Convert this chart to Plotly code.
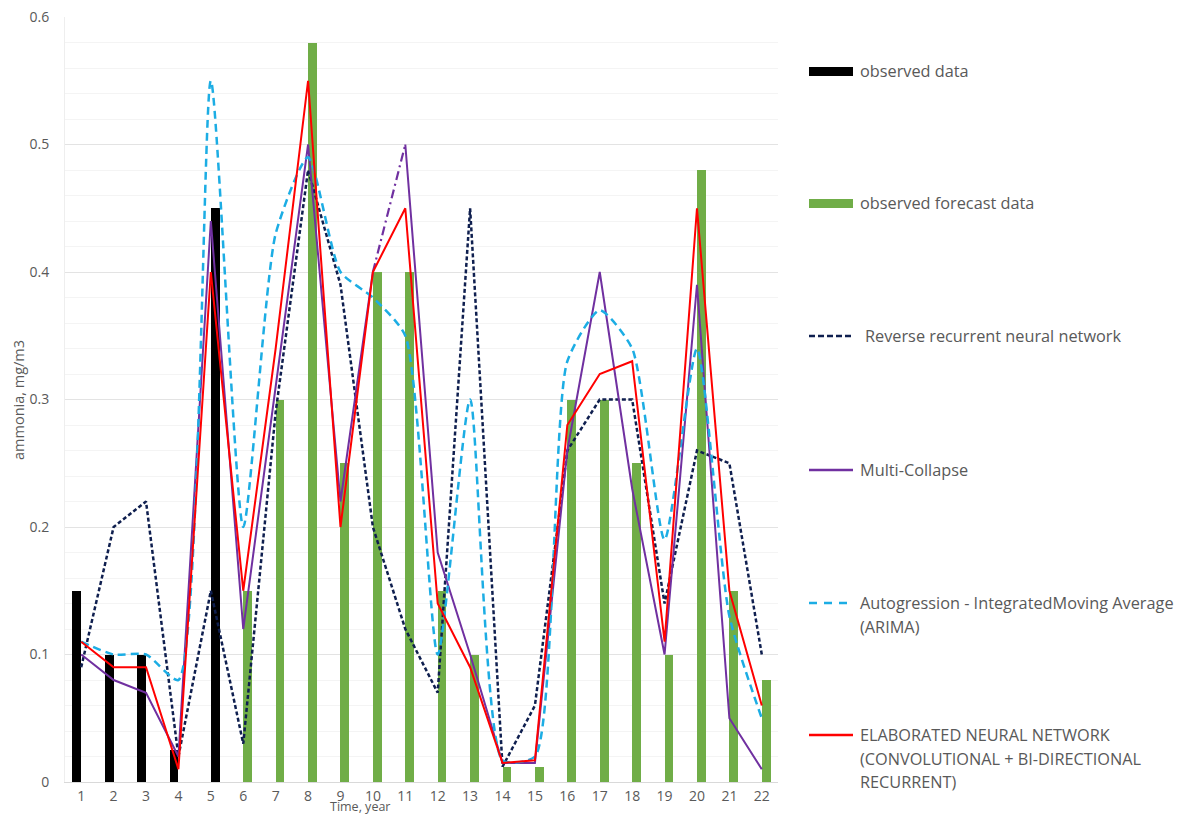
import plotly.graph_objects as go

# ---------------- data ----------------
years = list(range(1, 23))
tick_labels = [str(y) for y in years]
y_ticks = [0, 0.1, 0.2, 0.3, 0.4, 0.5, 0.6]
y_tick_labels = ["0", "0.1", "0.2", "0.3", "0.4", "0.5", "0.6"]

observed_x = [1, 2, 3, 4, 5]
observed = [0.15, 0.10, 0.10, 0.025, 0.45]

forecast_x = list(range(6, 23))
forecast_obs = [0.15, 0.30, 0.58, 0.25, 0.40, 0.40, 0.15, 0.10, 0.012, 0.012,
                0.30, 0.30, 0.25, 0.10, 0.48, 0.15, 0.08]

reverse_rnn = [0.09, 0.20, 0.22, 0.02, 0.15, 0.03, 0.29, 0.48, 0.39, 0.20, 0.12,
               0.07, 0.45, 0.012, 0.06, 0.26, 0.30, 0.30, 0.14, 0.26, 0.25, 0.10]
multi_collapse = [0.10, 0.08, 0.07, 0.02, 0.44, 0.12, 0.31, 0.50, 0.22, 0.40, 0.50,
                  0.18, 0.10, 0.015, 0.015, 0.26, 0.40, 0.23, 0.10, 0.39, 0.05, 0.01]
arima = [0.11, 0.10, 0.10, 0.08, 0.55, 0.20, 0.43, 0.49, 0.40, 0.38, 0.35,
         0.10, 0.30, 0.017, 0.02, 0.33, 0.37, 0.34, 0.19, 0.34, 0.13, 0.05]
elaborated = [0.11, 0.09, 0.09, 0.01, 0.40, 0.15, 0.34, 0.55, 0.20, 0.40, 0.45,
              0.14, 0.09, 0.015, 0.017, 0.28, 0.32, 0.33, 0.11, 0.45, 0.15, 0.06]

legend_names = ["observed data", "observed forecast data",
                "Reverse recurrent neural network", "Multi-Collapse",
                ["Autogression - IntegratedMoving Average", "(ARIMA)"],
                ["ELABORATED NEURAL NETWORK", "(CONVOLUTIONAL + BI-DIRECTIONAL", "RECURRENT)"]]

# ---------------- style ----------------
C_BLACK = "#000000"
C_GREEN = "#70AD47"
C_NAVY = "#0F1F4F"
C_PURPLE = "#7030A0"
C_BLUE = "#1CADE4"
C_RED = "#FF0000"
TXT = "#595959"
FONT = "Open Sans"

W, H = 1183, 818
PL, PR, PT, PB = 65, 778, 17, 782  # plot area in pixels
BW = 0.27  # bar width in category units


def px_x(p):
    return (p - PL) / (PR - PL)


def px_y(p):
    return (PB - p) / (PB - PT)


fig = go.Figure()

# bars: black bars sit left of the tick (except year 5), green ones right of it
obs_offset = [-BW if x < 5 else 0 for x in observed_x]
fig.add_trace(go.Bar(x=observed_x, y=observed, width=BW, offset=obs_offset,
                     marker=dict(color=C_BLACK, line_width=0), showlegend=False))
fig.add_trace(go.Bar(x=forecast_x, y=forecast_obs, width=BW, offset=0,
                     marker=dict(color=C_GREEN, line_width=0), showlegend=False))

fig.add_trace(go.Scatter(x=years, y=reverse_rnn, mode="lines",
                         line=dict(color=C_NAVY, width=2.5, dash="4px,2.5px"),
                         showlegend=False))

# Multi-Collapse: solid, with the year 10-11 segment dash-dotted
fig.add_trace(go.Scatter(x=years[:10], y=multi_collapse[:10], mode="lines",
                         line=dict(color=C_PURPLE, width=2), showlegend=False))
fig.add_trace(go.Scatter(x=years[9:11], y=multi_collapse[9:11], mode="lines",
                         line=dict(color=C_PURPLE, width=2.2, dash="9px,4px,2px,4px"),
                         showlegend=False))
fig.add_trace(go.Scatter(x=years[10:], y=multi_collapse[10:], mode="lines",
                         line=dict(color=C_PURPLE, width=2), showlegend=False))

fig.add_trace(go.Scatter(x=years, y=arima, mode="lines",
                         line=dict(color=C_BLUE, width=2.5, dash="8px,5px",
                                   shape="spline", smoothing=0.6),
                         showlegend=False))
fig.add_trace(go.Scatter(x=years, y=elaborated, mode="lines",
                         line=dict(color=C_RED, width=2), showlegend=False))

# ---------------- custom legend ----------------
shapes = []
annotations = []
LX0, LX1, LTX = 809, 853, 858
shapes.append(dict(type="rect", xref="paper", yref="paper",
                   x0=px_x(LX0), x1=px_x(LX1), y0=px_y(76), y1=px_y(67),
                   fillcolor=C_BLACK, line_width=0))
shapes.append(dict(type="rect", xref="paper", yref="paper",
                   x0=px_x(LX0), x1=px_x(LX1), y0=px_y(208), y1=px_y(199),
                   fillcolor=C_GREEN, line_width=0))
shapes.append(dict(type="line", xref="paper", yref="paper",
                   x0=px_x(LX0), x1=px_x(LX1), y0=px_y(336), y1=px_y(336),
                   line=dict(color=C_NAVY, width=2.5, dash="6px,3px")))
shapes.append(dict(type="line", xref="paper", yref="paper",
                   x0=px_x(LX0), x1=px_x(LX1), y0=px_y(470), y1=px_y(470),
                   line=dict(color=C_PURPLE, width=2.5)))
shapes.append(dict(type="line", xref="paper", yref="paper",
                   x0=px_x(LX0), x1=px_x(LX1), y0=px_y(603), y1=px_y(603),
                   line=dict(color=C_BLUE, width=2.5, dash="8px,7px")))
shapes.append(dict(type="line", xref="paper", yref="paper",
                   x0=px_x(LX0), x1=px_x(LX1), y0=px_y(735), y1=px_y(735),
                   line=dict(color=C_RED, width=2.5)))

legend_rows = [(legend_names[0], 71, LTX), (legend_names[1], 203, LTX),
               (legend_names[2], 336, LTX + 5), (legend_names[3], 470, LTX),
               (legend_names[4], 603, LTX), (legend_names[5], 735, LTX)]
for name, yc, xt in legend_rows:
    lines = name if isinstance(name, list) else [name]
    for i, ln in enumerate(lines):
        annotations.append(dict(text=ln, xref="paper", yref="paper",
                                x=px_x(xt), y=px_y(yc + i * 23.5),
                                xanchor="left", yanchor="middle", showarrow=False,
                                font=dict(family=FONT, size=16.3, color=TXT)))

# axis titles
annotations.append(dict(text="ammonia, mg/m3", xref="paper", yref="paper",
                        x=px_x(18), y=px_y(400), textangle=-90,
                        xanchor="center", yanchor="middle", showarrow=False,
                        font=dict(family=FONT, size=14.5, color=TXT)))
annotations.append(dict(text="Time, year", xref="paper", yref="paper",
                        x=px_x(360), y=px_y(817), xanchor="center",
                        yanchor="bottom", showarrow=False,
                        font=dict(family=FONT, size=12.5, color=TXT)))

fig.update_layout(
    width=W, height=H,
    margin=dict(l=PL, r=W - PR, t=PT, b=H - PB, autoexpand=False),
    plot_bgcolor="white", paper_bgcolor="white",
    barmode="overlay", bargap=0,
    shapes=shapes, annotations=annotations,
    font=dict(family=FONT, color=TXT),
)
fig.update_xaxes(range=[0.5, 22.5], tickvals=years, ticktext=tick_labels,
                 automargin=False,
                 showgrid=False, zeroline=False, showline=True,
                 linecolor="#D9D9D9", linewidth=1,
                 ticks="outside", ticklen=1, tickcolor="rgba(0,0,0,0)",
                 tickfont=dict(family=FONT, size=14, color=TXT))
fig.update_yaxes(range=[0, 0.6], tickvals=y_ticks, ticktext=y_tick_labels,
                 automargin=False,
                 showgrid=True, gridcolor="#E3E3E3", gridwidth=1,
                 zeroline=False, showline=True, linecolor="#EEEEEE",
                 ticks="outside", ticklen=12, tickcolor="rgba(0,0,0,0)",
                 tickfont=dict(family=FONT, size=14, color=TXT),
                 minor=dict(dtick=0.02, showgrid=True, gridcolor="#F4F4F4",
                            gridwidth=1))

fig.write_html("out.html",
               config={"displayModeBar": False},
               post_script="document.body.style.margin='0';"
                           "document.body.style.overflow='hidden';")
